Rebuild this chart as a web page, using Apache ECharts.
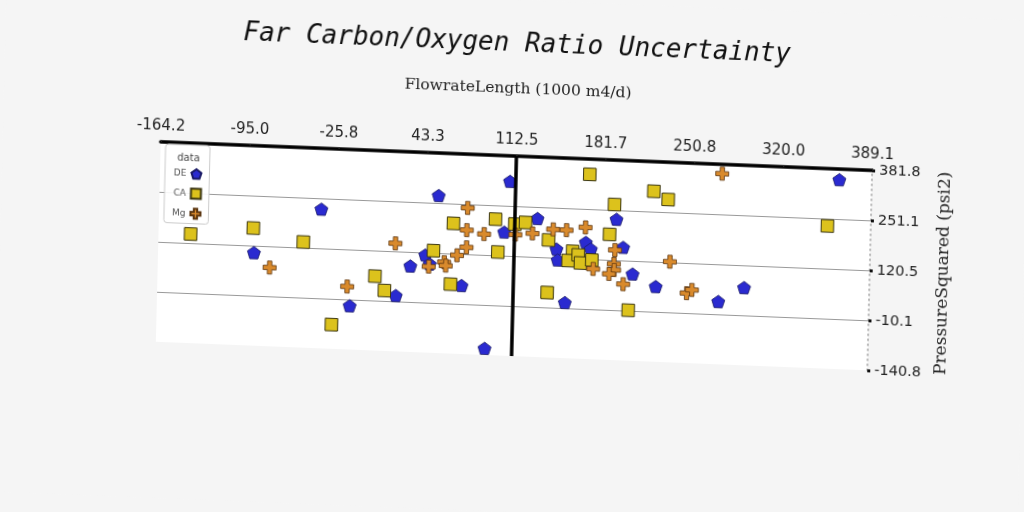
<!DOCTYPE html>
<html>
<head>
<meta charset="utf-8">
<script src="https://cdn.jsdelivr.net/npm/echarts@6/dist/echarts.min.js"></script>
<style>
  html, body { margin: 0; padding: 0; background: #f5f5f5; }
  #chart {
    width: 1024px; height: 512px;
    /* the picture is slightly rotated / sheared */
    transform-origin: 512px 256px;
    transform: matrix(0.9992, 0.0401, -0.0244, 0.9997, 0, 0);
  }
</style>
</head>
<body>
<div id="chart"></div>
<script>
// axis ranges and tick labels
const xMin = -164.2, xMax = 389.1;
const yMin = -140.8, yMax = 381.8;
const xTickLabels = ['-164.2', '-95.0', '-25.8', '43.3', '112.5', '181.7', '250.8', '320.0', '389.1'];
const yTickLabels = ['-140.8', '-10.1', '120.5', '251.1', '381.8'];
const refLineX = 112.5;

// series: [x, y]
const deData = [
  [-38.1, 222.9], [-89.7, 102.3], [-14.3, -26.4], [21.3, 5.1], [32.1, 83.8],
  [43.5, 114.0], [47.1, 91.1], [52.8, 270.8], [72.2, 38.1], [91.3, -123.4],
  [108.0, 315.2], [104.4, 182.1], [130.0, 221.1], [145.3, 143.4], [146.4, 114.8],
  [168.0, 163.9], [172.0, 147.0], [191.4, 227.4], [197.1, 154.8], [204.9, 86.2],
  [223.1, 55.8], [152.8, 4.5], [272.0, 23.3], [291.8, 62.3], [363.8, 354.0]
];
const caData = [
  [-139.2, 144.2], [-90.6, 166.3], [-51.5, 135.1], [-28.1, -77.6], [4.8, 53.4],
  [12.4, 17.0], [49.8, 126.2], [63.6, 40.4], [64.8, 199.5], [97.4, 214.9],
  [99.8, 129.3], [112.5, 204.0], [120.8, 209.4], [139.0, 166.0], [157.9, 139.0],
  [154.6, 114.3], [162.3, 130.1], [164.2, 109.3], [173.0, 118.4], [186.3, 187.1],
  [189.6, 265.6], [138.9, 28.7], [202.2, -9.0], [219.9, 304.3], [169.8, 341.8],
  [231.2, 284.3], [355.4, 232.0]
];
const mgData = [
  [-77.2, 64.9], [-16.6, 23.5], [20.1, 141.3], [75.6, 241.4], [75.3, 183.4],
  [88.8, 174.8], [75.4, 138.4], [68.2, 116.6], [58.3, 97.1], [59.6, 88.3],
  [46.4, 84.1], [113.1, 176.7], [126.4, 181.6], [142.4, 194.3], [152.8, 193.8],
  [167.5, 202.9], [174.2, 95.3], [190.8, 146.8], [190.2, 110.4], [190.5, 94.8],
  [186.6, 83.8], [197.8, 58.6], [272.7, 357.4], [233.7, 122.1], [247.3, 41.7],
  [251.3, 50.8]
];

const xStep = (xMax - xMin) / (xTickLabels.length - 1);
const yStep = (yMax - yMin) / (yTickLabels.length - 1);

const pentagon = 'path://M0,-1L0.951,-0.309L0.588,0.809L-0.588,0.809L-0.951,-0.309Z';
const plus = 'path://M-1,-3H1V-1H3V1H1V3H-1V1H-3V-1H-1Z';

const chart = echarts.init(document.getElementById('chart'));

chart.setOption({
  backgroundColor: '#f5f5f5',
  animation: false,
  title: [{
    text: 'Far Carbon/Oxygen Ratio Uncertainty',
    left: 'center',
    top: 26,
    textStyle: {
      fontFamily: 'DejaVu Sans Mono',
      fontStyle: 'italic',
      fontWeight: 'normal',
      fontSize: 26,
      color: '#111'
    }
  }, {
    text: 'data',
    left: 170,
    top: 161,
    textStyle: { fontFamily: 'DejaVu Sans', fontWeight: 'normal', fontSize: 10, color: '#444' }
  }],
  legend: {
    orient: 'vertical',
    left: 163,
    top: 158,
    align: 'right',
    padding: [23, 7, 4, 8],
    itemGap: 8,
    itemWidth: 10,
    itemHeight: 10,
    borderColor: '#ccc',
    borderWidth: 1,
    borderRadius: 3,
    backgroundColor: 'rgba(255,255,255,0.9)',
    textStyle: { fontFamily: 'DejaVu Sans', fontSize: 9, color: '#555' },
    data: ['DE', 'CA', 'Mg']
  },
  grid: {
    left: 158, right: 154, top: 156, bottom: 156,
    show: true, backgroundColor: '#fff', borderWidth: 0
  },
  xAxis: {
    type: 'value',
    position: 'top',
    min: xMin, max: xMax, interval: xStep,
    name: 'FlowrateLength (1000 m4/d)',
    nameLocation: 'middle',
    nameGap: 59,
    nameTextStyle: { fontFamily: 'DejaVu Serif', fontSize: 15.5, color: '#222' },
    axisLine: { show: true, onZero: false, lineStyle: { color: '#000', width: 3.5 } },
    axisTick: { show: true, length: 2, lineStyle: { color: '#333' } },
    axisLabel: {
      margin: 8,
      fontFamily: 'DejaVu Sans', fontSize: 15, color: '#222',
      formatter: v => xTickLabels[Math.round((v - xMin) / xStep)]
    },
    splitLine: { show: false }
  },
  yAxis: {
    type: 'value',
    position: 'right',
    min: yMin, max: yMax, interval: yStep,
    name: 'PressureSquared (psi2)',
    nameLocation: 'middle',
    nameRotate: 90,
    nameGap: 62,
    nameTextStyle: { fontFamily: 'DejaVu Serif', fontSize: 17, color: '#222' },
    axisLine: { show: true, onZero: false, lineStyle: { color: '#999', width: 1.5, type: [1, 4] } },
    axisTick: { show: true, length: 3, lineStyle: { color: '#111', width: 3 } },
    axisLabel: {
      margin: 7,
      fontFamily: 'DejaVu Sans', fontSize: 14.5, color: '#222',
      formatter: v => yTickLabels[Math.round((v - yMin) / yStep)]
    },
    splitLine: { show: true, showMinLine: false, lineStyle: { color: '#999', width: 1.2 } }
  },
  series: [{
    name: 'DE',
    type: 'scatter',
    data: deData,
    symbol: pentagon,
    symbolKeepAspect: true,
    symbolSize: 13,
    itemStyle: { color: '#2a2ad0', borderColor: '#1a1a66', borderWidth: 0.8, opacity: 1 },
    z: 3,
    markLine: {
      silent: true,
      symbol: ['none', 'none'],
      label: { show: false },
      lineStyle: { color: '#000', width: 3.5, type: 'solid', opacity: 1 },
      data: [{ xAxis: refLineX }],
      z: 5
    }
  }, {
    name: 'CA',
    type: 'scatter',
    data: caData,
    symbol: 'rect',
    symbolSize: 12.5,
    itemStyle: { color: '#dcc21c', borderColor: '#3a3510', borderWidth: 1, opacity: 1 },
    z: 3
  }, {
    name: 'Mg',
    type: 'scatter',
    data: mgData,
    symbol: plus,
    symbolKeepAspect: true,
    symbolSize: 13,
    itemStyle: { color: '#d98a2c', borderColor: '#5a3510', borderWidth: 0.8, opacity: 1 },
    z: 3
  }]
});
</script>
</body>
</html>
